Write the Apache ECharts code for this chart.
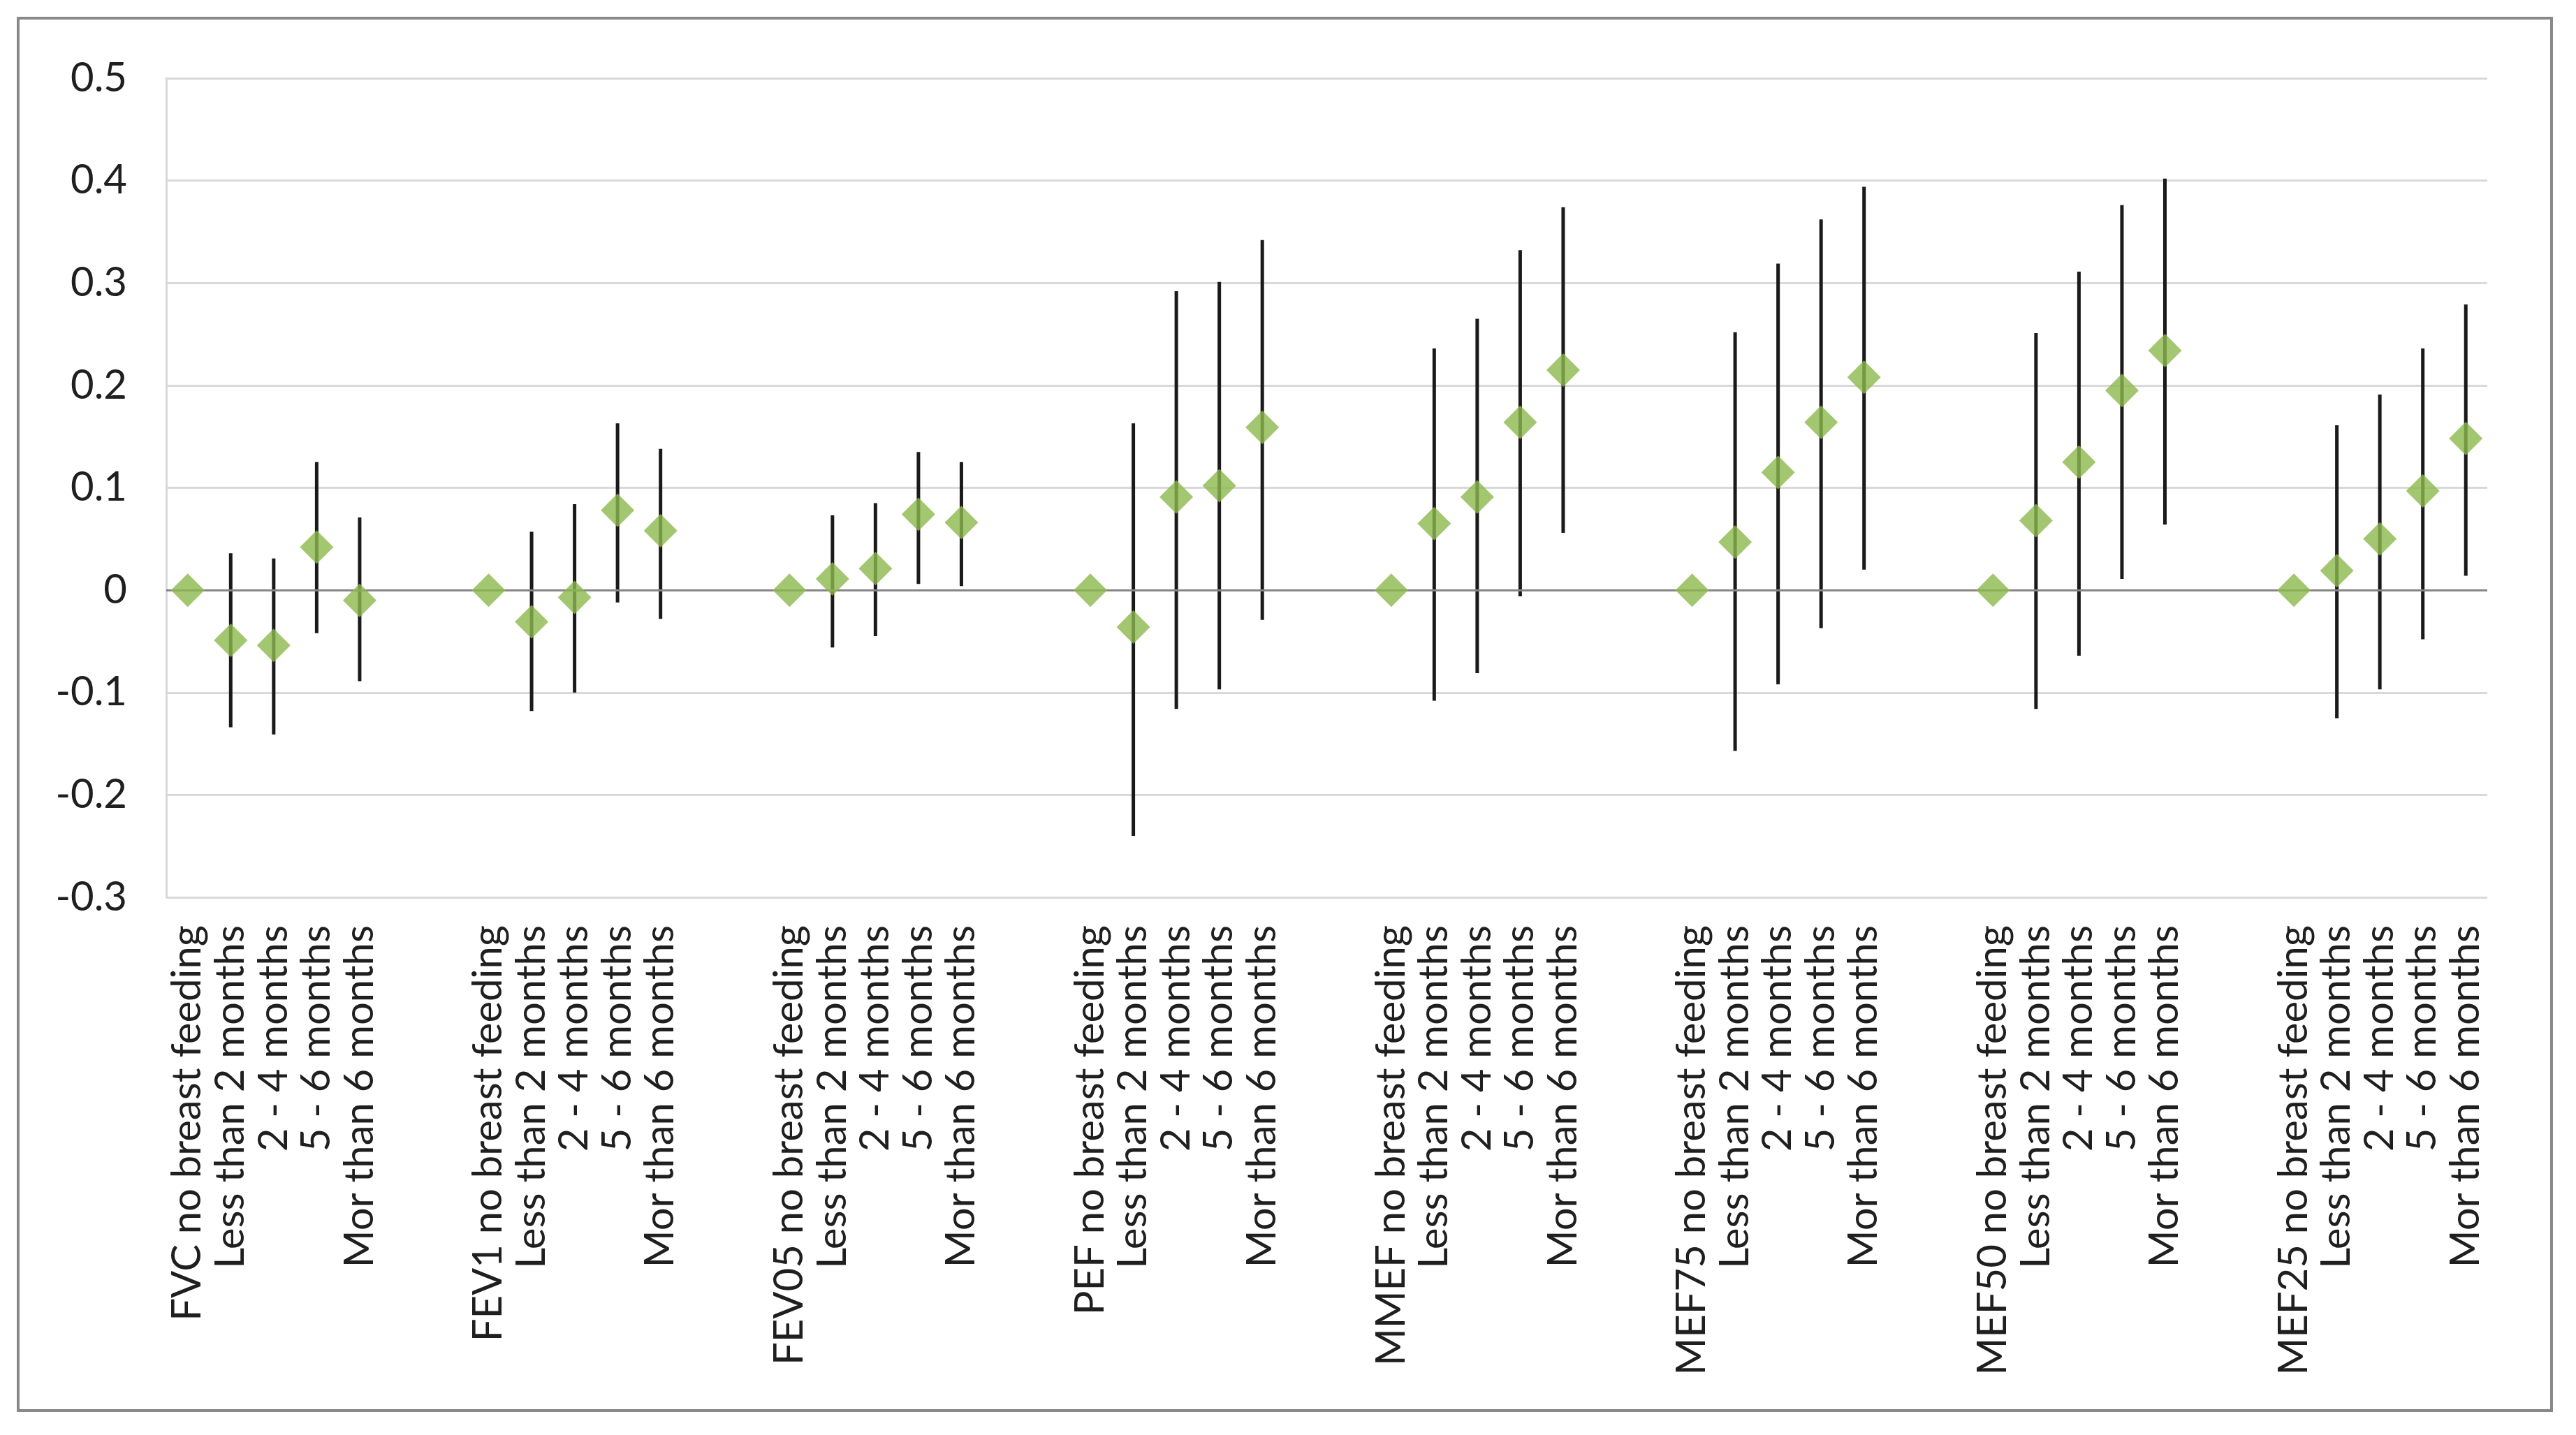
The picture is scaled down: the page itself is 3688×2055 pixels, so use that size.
<!DOCTYPE html>
<html>
<head>
<meta charset="utf-8">
<script src="https://cdn.jsdelivr.net/npm/echarts@6/dist/echarts.min.js"></script>
<style>
  html, body { margin: 0; padding: 0; background: #fff; }
  #chart { width: 3688px; height: 2055px; }
</style>
</head>
<body>
<div id="chart"></div>
<script>
// measures and breast feeding periods
var groups = ['FVC', 'FEV1', 'FEV05', 'PEF', 'MMEF', 'MEF75', 'MEF50', 'MEF25'];
var periods = ['no breast feeding', 'Less than 2 months', '2 - 4 months', '5 - 6 months', 'Mor than 6 months'];

// point estimates per group (reference = 0)
var estimates = [
    [0, -0.049, -0.054, 0.042, -0.010],
    [0, -0.031, -0.007, 0.078, 0.058],
    [0, 0.011, 0.021, 0.074, 0.066],
    [0, -0.036, 0.091, 0.102, 0.159],
    [0, 0.065, 0.091, 0.164, 0.215],
    [0, 0.047, 0.115, 0.164, 0.208],
    [0, 0.068, 0.125, 0.195, 0.234],
    [0, 0.019, 0.050, 0.097, 0.148]
];
// lower and upper confidence limits (none for the reference)
var lower = [
    [null, -0.134, -0.141, -0.042, -0.089],
    [null, -0.118, -0.100, -0.012, -0.028],
    [null, -0.056, -0.045, 0.006, 0.004],
    [null, -0.240, -0.116, -0.097, -0.029],
    [null, -0.108, -0.081, -0.006, 0.056],
    [null, -0.157, -0.092, -0.037, 0.020],
    [null, -0.116, -0.064, 0.011, 0.064],
    [null, -0.125, -0.097, -0.048, 0.014]
];
var upper = [
    [null, 0.036, 0.031, 0.125, 0.071],
    [null, 0.057, 0.084, 0.163, 0.138],
    [null, 0.073, 0.085, 0.135, 0.125],
    [null, 0.163, 0.292, 0.301, 0.342],
    [null, 0.236, 0.265, 0.332, 0.374],
    [null, 0.252, 0.319, 0.362, 0.394],
    [null, 0.251, 0.311, 0.376, 0.402],
    [null, 0.161, 0.191, 0.236, 0.279]
];
var gapSlots = 2;

var categories = [];
var points = [];
var bars = [];
groups.forEach(function (g, gi) {
    periods.forEach(function (p, pi) {
        var idx = categories.length;
        categories.push(pi === 0 ? g + ' ' + p : p);
        points.push([idx, estimates[gi][pi]]);
        if (lower[gi][pi] !== null) {
            bars.push([idx, lower[gi][pi], upper[gi][pi]]);
        }
    });
    if (gi < groups.length - 1) {
        for (var k = 0; k < gapSlots; k++) categories.push('');
    }
});

var fontName = 'Lato';

var option = {
    animation: false,
    backgroundColor: '#ffffff',
    graphic: [{
        type: 'rect',
        shape: { x: 26, y: 26, width: 3627, height: 1994 },
        style: { fill: 'none', stroke: '#898989', lineWidth: 4 },
        silent: true
    }],
    grid: { left: 238, right: 127, top: 112, bottom: 770 },
    xAxis: {
        type: 'category',
        data: categories,
        axisLine: { show: false, onZero: false },
        axisTick: { show: false },
        axisLabel: {
            interval: 0,
            rotate: 90,
            margin: 40,
            fontFamily: fontName,
            fontSize: 58,
            color: '#1f1f1f'
        },
        splitLine: { show: false }
    },
    yAxis: {
        type: 'value',
        min: -0.3,
        max: 0.5,
        interval: 0.1,
        axisLine: { show: true, lineStyle: { color: '#d9d9d9', width: 3 } },
        axisTick: { show: false },
        axisLabel: {
            margin: 56,
            fontFamily: fontName,
            fontSize: 58,
            color: '#1f1f1f',
            formatter: function (v) { return String(+v.toFixed(1)); }
        },
        splitLine: { lineStyle: { color: '#d9d9d9', width: 3 } }
    },
    series: [
        {
            type: 'custom',
            z: 3,
            data: bars,
            renderItem: function (params, api) {
                var x = api.value(0);
                var lo = api.coord([x, api.value(1)]);
                var hi = api.coord([x, api.value(2)]);
                return {
                    type: 'line',
                    shape: { x1: lo[0], y1: lo[1], x2: hi[0], y2: hi[1] },
                    style: { stroke: '#1a1a1a', lineWidth: 5 }
                };
            },
            markLine: {
                silent: true,
                symbol: 'none',
                label: { show: false },
                lineStyle: { color: '#868686', width: 3, type: 'solid' },
                data: [{ yAxis: 0 }]
            }
        },
        {
            type: 'scatter',
            z: 5,
            data: points,
            symbol: 'diamond',
            symbolSize: [48, 48],
            itemStyle: { color: '#8cb84c' }
        }
    ]
};

var myChart = echarts.init(document.getElementById('chart'));
myChart.setOption(option);
</script>
</body>
</html>
